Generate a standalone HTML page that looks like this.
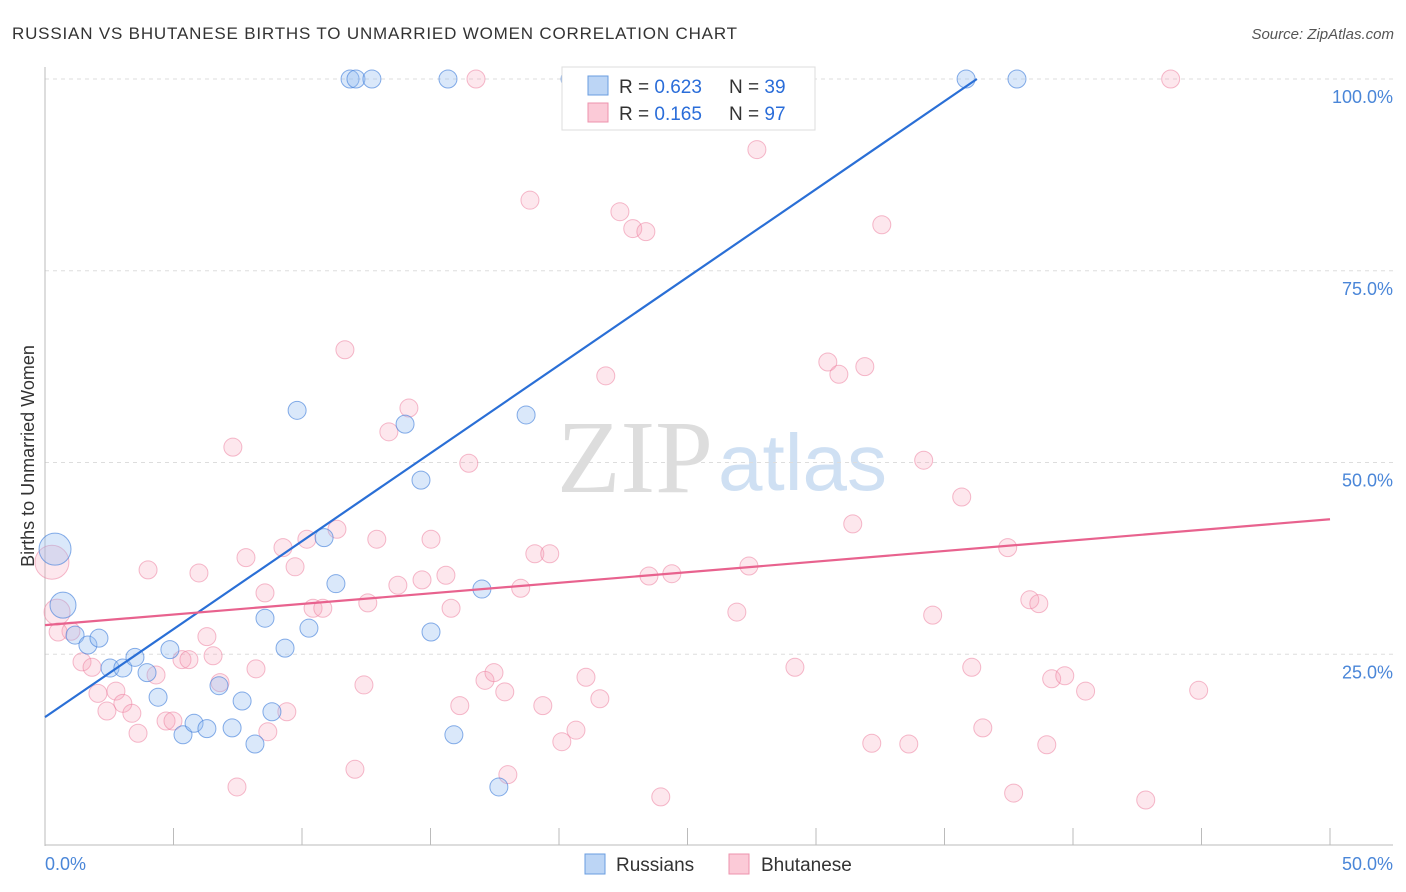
<!DOCTYPE html>
<html><head><meta charset="utf-8"><style>
body{margin:0;background:#fff;font-family:"Liberation Sans",sans-serif}
</style></head><body>
<svg id="c" width="1406" height="892" style="position:absolute;left:0;top:0">
<text x="12" y="39" font-size="17" fill="#333" textLength="725">RUSSIAN VS BHUTANESE BIRTHS TO UNMARRIED WOMEN CORRELATION CHART</text>
<text x="1394" y="39" font-size="15" fill="#555" font-style="italic" text-anchor="end">Source: ZipAtlas.com</text>
<text x="34" y="456" font-size="18" fill="#333" text-anchor="middle" transform="rotate(-90 34 456)">Births to Unmarried Women</text>
<text x="713" y="492" font-size="104" fill="#ddd" font-family="Liberation Serif,serif" text-anchor="end">ZIP</text>
<text x="718" y="490" font-size="80" fill="#cfe0f3">atlas</text>
<g id="grid"></g><g id="pts"></g><g id="lines"></g>
<g>
<rect x="562" y="67" width="253" height="63" fill="#fff" stroke="#ddd"/>
<rect x="588" y="76" width="20" height="19" fill="#bcd5f5" stroke="#6a9de0"/>
<rect x="588" y="103" width="20" height="19" fill="#fbcad7" stroke="#ee93ad"/>
<text x="619" y="93" font-size="19" fill="#333">R = <tspan fill="#2a6dd9">0.623</tspan></text>
<text x="729" y="93" font-size="19" fill="#333">N = <tspan fill="#2a6dd9">39</tspan></text>
<text x="619" y="120" font-size="19" fill="#333">R =  <tspan fill="#2a6dd9">0.165</tspan></text>
<text x="729" y="120" font-size="19" fill="#333">N = <tspan fill="#2a6dd9">97</tspan></text>
</g>
<g>
<rect x="585" y="854" width="20" height="20" fill="#bcd5f5" stroke="#6a9de0"/>
<text x="616" y="871" font-size="19" fill="#333">Russians</text>
<rect x="729" y="854" width="20" height="20" fill="#fbcad7" stroke="#ee93ad"/>
<text x="761" y="871" font-size="19" fill="#333">Bhutanese</text>
</g>
</svg>
<script>
const yTicks=[100,75,50,25];
const xTickLabels=["0.0%","50.0%"];
const rusX=[0.39,0.70,1.17,1.67,2.10,2.53,3.03,3.50,3.97,4.40,4.86,5.37,5.80,6.30,6.77,7.28,7.67,8.17,8.56,8.83,9.34,9.81,10.27,10.86,11.32,11.87,12.10,12.72,14.01,14.63,15.02,15.68,15.91,17.00,17.66,18.72,20.43,35.84,37.82];
const rusY=[38.7,31.4,27.5,26.2,27.1,23.2,23.2,24.6,22.6,19.4,25.6,14.5,16.0,15.3,20.9,15.4,18.9,13.3,29.7,17.5,25.8,56.8,28.4,40.2,34.2,100,100,100,55.0,47.7,27.9,100,14.5,33.5,7.7,56.2,100,100,100];
const bhuX=[0.27,0.47,1.01,0.51,1.44,1.83,2.06,2.76,3.03,2.41,3.38,3.62,4.01,4.32,4.71,4.98,5.33,5.60,5.99,6.30,6.54,6.81,7.31,7.47,7.82,8.21,8.56,8.67,9.26,9.41,9.73,10.19,10.43,10.81,11.36,11.67,12.06,12.41,12.56,12.91,13.38,13.73,14.16,14.67,15.02,15.60,15.80,16.14,16.49,16.77,17.12,17.47,17.89,18.01,18.51,18.87,19.06,19.37,19.64,20.11,20.66,21.05,21.59,21.82,22.37,22.87,23.38,23.50,23.96,24.39,26.92,27.39,27.70,29.18,30.46,30.89,31.43,31.90,32.17,32.56,33.61,34.19,34.54,35.67,36.06,36.49,37.46,37.69,38.32,38.67,38.98,39.17,39.68,40.49,42.83,43.80,44.89];
const bhuY=[37.0,30.5,28.0,27.9,24.0,23.3,19.9,20.2,18.6,17.6,17.3,14.7,36.0,22.3,16.3,16.3,24.3,24.3,35.6,27.3,24.8,21.3,52.0,7.7,37.6,23.1,33.0,14.9,38.9,17.5,36.4,40.0,31.0,31.0,41.3,64.7,10.0,21.0,31.7,40.0,54.0,34.0,57.1,34.7,40.0,35.3,31.0,18.3,49.9,100,21.6,22.6,20.1,9.3,33.6,84.2,38.1,18.3,38.1,13.6,15.1,22.0,19.2,61.3,82.7,80.5,80.1,35.2,6.4,35.5,30.5,36.5,90.8,23.3,63.1,61.5,42.0,62.5,13.4,81.0,13.3,50.3,30.1,45.5,23.3,15.4,38.9,6.9,32.1,31.6,13.2,21.8,22.2,20.2,6.0,100,20.3];
const rusLine=[0,16.8,36.26,100];
const bhuLine=[0,28.8,50,42.6];
const NS="http://www.w3.org/2000/svg";
const X=v=>45+v/50*1285, Y=v=>846-v/100*767;
function mk(t,a,p){const e=document.createElementNS(NS,t);for(const k in a)e.setAttribute(k,a[k]);p.appendChild(e);return e;}
const g=document.getElementById('grid');
yTicks.forEach(t=>{
 const l=mk('line',{x1:45,x2:1393,y1:Y(t),y2:Y(t),stroke:'#ddd','stroke-dasharray':'4,4'},g);
 
 
 const tx=mk('text',{x:1393,y:Y(t)+24,'font-size':18,fill:'#4a86d8','text-anchor':'end'},g);
 tx.textContent=t.toFixed(1)+'%';
 
 
});
mk('line',{x1:45,x2:45,y1:67,y2:846,stroke:'#bbb'},g);
mk('line',{x1:45,x2:1393,y1:845,y2:845,stroke:'#bbb'},g);
for(let i=0;i<=10;i++){const t=mk('line',{x1:X(i*5),x2:X(i*5),y1:828,y2:845,stroke:'#bbb'},g);
 
 }
[[0,'start',45],[50,'end',1393]].forEach((d,i)=>{const tx=mk('text',{x:d[2],y:870,'font-size':18,fill:'#4a86d8','text-anchor':d[1]},g);
 tx.textContent=xTickLabels[i];
 
 });
const p=document.getElementById('pts');
bhuX.forEach((x,i)=>{const r=i==0?17:(i==1?13:9);
 const c=mk('circle',{cx:X(x),cy:Y(bhuY[i]),r:r,fill:'rgba(246,160,185,0.25)',stroke:'rgba(236,130,160,0.55)'},p);
 
 });
rusX.forEach((x,i)=>{const r=i==0?16:(i==1?13:9);
 const c=mk('circle',{cx:X(x),cy:Y(rusY[i]),r:r,fill:'rgba(150,190,240,0.35)',stroke:'rgba(70,130,220,0.65)'},p);
 
 });
const L=document.getElementById('lines');
const a=mk('line',{x1:X(rusLine[0]),y1:Y(rusLine[1]),x2:X(rusLine[2]),y2:Y(rusLine[3]),stroke:'#2a6fd6','stroke-width':2.2},L);


const b=mk('line',{x1:X(bhuLine[0]),y1:Y(bhuLine[1]),x2:X(bhuLine[2]),y2:Y(bhuLine[3]),stroke:'#e8628e','stroke-width':2.2},L);


</script>
</body></html>
